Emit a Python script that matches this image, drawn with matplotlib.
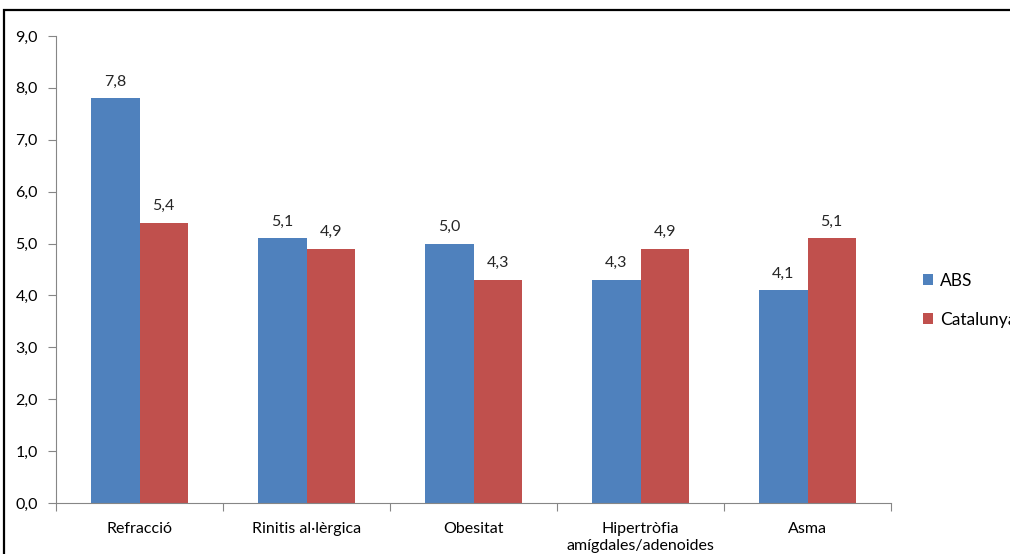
import numpy as np
import matplotlib.pyplot as plt
from matplotlib.patches import Rectangle

plt.rcParams['font.family'] = ['Lato', 'DejaVu Sans']

# Data
categories = ['Refracció', 'Rinitis al·lèrgica', 'Obesitat',
              'Hipertròfia\namígdales/adenoides', 'Asma']
abs_values = [7.8, 5.1, 5.0, 4.3, 4.1]
cat_values = [5.4, 4.9, 4.3, 4.9, 5.1]
series_names = ['ABS', 'Catalunya']

blue = '#4F81BD'
red = '#C0504D'
axis_grey = '#868686'

fig = plt.figure(figsize=(10.10, 5.54), dpi=100)
ax = fig.add_axes([56 / 1010, 1 - 503 / 554, 835 / 1010, 467 / 554])

x = np.arange(len(categories))
w = 0.288
b1 = ax.bar(x - w / 2, abs_values, w, color=blue, label=series_names[0])
b2 = ax.bar(x + w / 2, cat_values, w, color=red, label=series_names[1])

# Value labels above each bar
for bars, vals in ((b1, abs_values), (b2, cat_values)):
    for rect, v in zip(bars, vals):
        ax.annotate(f'{v:.1f}'.replace('.', ','),
                    (rect.get_x() + rect.get_width() / 2, v),
                    xytext=(0, 7), textcoords='offset points',
                    ha='center', va='bottom', fontsize=11.5, color='#262626')

ax.set_xlim(-0.5, len(categories) - 0.5)
ax.set_ylim(0, 9)
ax.set_yticks(np.arange(0, 9.1, 1))
ax.set_yticklabels([f'{t:.1f}'.replace('.', ',') for t in np.arange(0, 9.1, 1)])

# Category ticks sit between groups, labels centred under them
ax.set_xticks(np.arange(-0.5, len(categories), 1))
ax.set_xticklabels([])
ax.set_xticks(x, minor=True)
ax.set_xticklabels(categories, minor=True, fontsize=11.5, linespacing=1.25, va='top')
ax.tick_params(axis='x', which='minor', length=0, pad=14)
ax.tick_params(axis='x', which='major', length=6, color=axis_grey, direction='out')
ax.tick_params(axis='y', length=6, color=axis_grey, labelsize=11.5, pad=7)

for side in ('top', 'right'):
    ax.spines[side].set_visible(False)
ax.spines['left'].set_color(axis_grey)
ax.spines['bottom'].set_color(axis_grey)

ax.legend(loc='upper left', bbox_to_anchor=(916 / 1010, 1 - 266 / 554),
          bbox_transform=fig.transFigure, frameon=False, fontsize=12.5,
          handlelength=0.6, handleheight=0.6, handletextpad=0.4,
          labelspacing=1.3, borderaxespad=0)

# Black frame around the chart area
fig.add_artist(Rectangle((4 / 1010, -0.1), 1.2, 1.1 - 10 / 554,
                         transform=fig.transFigure, fill=False,
                         edgecolor='black', linewidth=1.6, clip_on=False))

fig.savefig('out.png', dpi=100)
